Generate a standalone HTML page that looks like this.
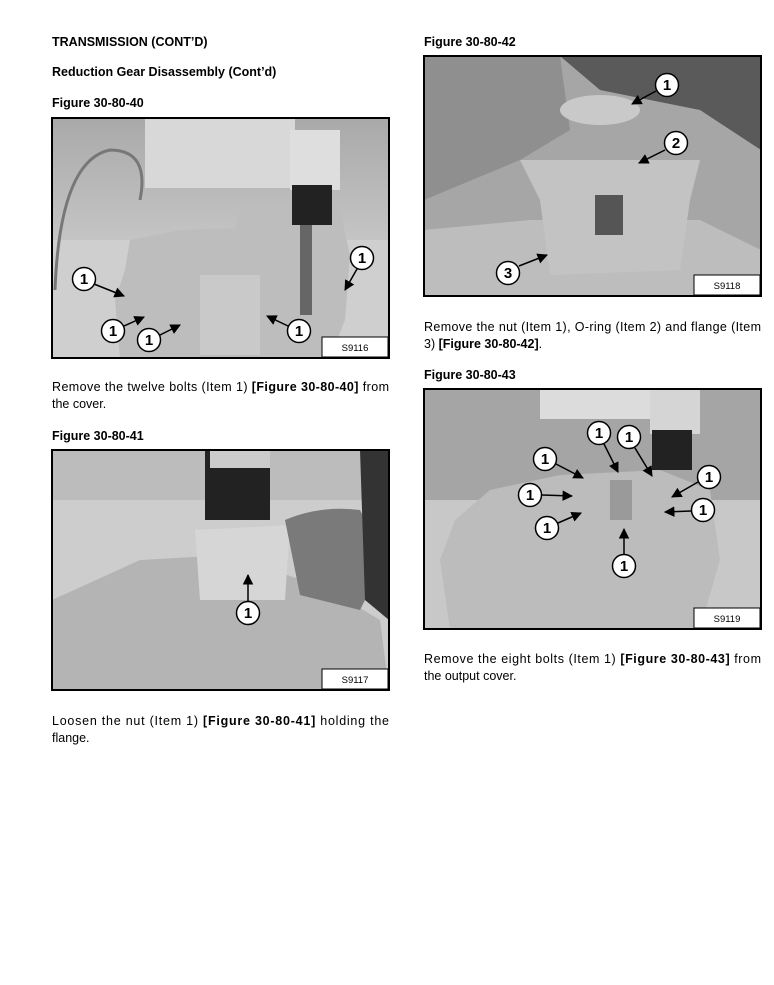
<!DOCTYPE html>
<html><head><meta charset="utf-8"><style>
html,body{margin:0;padding:0;background:#fff}
svg{display:block}
text{font-family:"Liberation Sans",Arial,sans-serif;fill:#000}
.h{font-size:12.5px;font-weight:bold}
.p{font-size:12.5px}
.c{font-size:15px;font-weight:bold;text-anchor:middle}
.s{font-size:9.5px;text-anchor:middle}
</style></head><body>
<svg width="774" height="985" viewBox="0 0 774 985" xmlns="http://www.w3.org/2000/svg">
<defs>
<marker id="a" viewBox="0 0 10 10" refX="9" refY="5" markerWidth="7" markerHeight="7" orient="auto"><path d="M0,0L10,5L0,10z" fill="#000"/></marker>
<linearGradient id="g1" x1="0" y1="0" x2="0" y2="1"><stop offset="0" stop-color="#a9a9a9"/><stop offset="0.5" stop-color="#c4c4c4"/><stop offset="1" stop-color="#b0b0b0"/></linearGradient>
</defs>
<rect width="774" height="985" fill="#fff"/>

<text class="h" x="52" y="46">TRANSMISSION (CONT’D)</text>
<text class="h" x="52" y="76">Reduction Gear Disassembly (Cont’d)</text>
<text class="h" x="52" y="107">Figure 30-80-40</text>

<!-- Fig 40 -->
<rect x="52" y="118" width="337" height="240" fill="url(#g1)"/>
<rect x="52" y="240" width="337" height="118" fill="#cfcfcf"/>
<path d="M125,270 L130,240 L180,230 L235,228 L240,210 L290,205 L340,210 L350,255 L345,320 L330,358 L120,358 L115,300z" fill="#bdbdbd"/>
<rect x="200" y="275" width="60" height="80" fill="#c9c9c9"/>
<rect x="145" y="118" width="150" height="70" fill="#d8d8d8"/>
<rect x="290" y="130" width="50" height="60" fill="#dedede"/>
<rect x="292" y="185" width="40" height="40" fill="#222"/>
<rect x="300" y="225" width="12" height="90" fill="#666"/>
<path d="M55,290 Q60,160 110,150 Q150,150 140,200" fill="none" stroke="#777" stroke-width="3"/>
<rect x="52" y="118" width="337" height="240" fill="none" stroke="#000" stroke-width="2"/>
<rect x="322" y="337" width="66" height="20" fill="#fff" stroke="#000"/>
<text class="s" x="355" y="351">S9116</text>
<g stroke="#000" stroke-width="1.5" marker-end="url(#a)">
<line x1="94" y1="284" x2="124" y2="296"/><line x1="124" y1="326" x2="144" y2="317"/>
<line x1="160" y1="335" x2="180" y2="325"/><line x1="288" y1="326" x2="267" y2="316"/>
<line x1="357" y1="269" x2="345" y2="290"/>
</g>
<g fill="#fff" stroke="#000" stroke-width="1.5">
<circle cx="84" cy="279" r="11.5"/><circle cx="113" cy="331" r="11.5"/><circle cx="149" cy="340" r="11.5"/><circle cx="299" cy="331" r="11.5"/><circle cx="362" cy="258" r="11.5"/>
</g>
<text class="c" x="84" y="284">1</text><text class="c" x="113" y="336">1</text><text class="c" x="149" y="345">1</text><text class="c" x="299" y="336">1</text><text class="c" x="362" y="263">1</text>

<text class="p" x="52" y="391" textLength="337">Remove the twelve bolts (Item 1) <tspan font-weight="bold">[Figure 30-80-40]</tspan> from</text>
<text class="p" x="52" y="408">the cover.</text>

<text class="h" x="52" y="440">Figure 30-80-41</text>
<!-- Fig 41 -->
<rect x="52" y="450" width="337" height="240" fill="#bcbcbc"/>
<rect x="52" y="500" width="337" height="190" fill="#cdcdcd"/>
<path d="M52,600 L140,560 L230,555 L330,590 L380,620 L389,690 L52,690z" fill="#b4b4b4"/>
<path d="M195,530 L290,525 L285,600 L200,600z" fill="#d6d6d6"/>
<rect x="205" y="450" width="65" height="70" fill="#222"/>
<rect x="210" y="450" width="60" height="18" fill="#ccc"/>
<path d="M285,520 Q320,505 360,510 L385,560 L360,610 L300,595z" fill="#7a7a7a"/>
<path d="M360,450 L389,450 L389,620 L365,600z" fill="#333"/>
<rect x="52" y="450" width="337" height="240" fill="none" stroke="#000" stroke-width="2"/>
<rect x="322" y="669" width="66" height="20" fill="#fff" stroke="#000"/>
<text class="s" x="355" y="683">S9117</text>
<line x1="248" y1="601" x2="248" y2="575" stroke="#000" stroke-width="1.5" marker-end="url(#a)"/>
<circle cx="248" cy="613" r="11.5" fill="#fff" stroke="#000" stroke-width="1.5"/>
<text class="c" x="248" y="618">1</text>

<text class="p" x="52" y="725" textLength="337">Loosen the nut (Item 1) <tspan font-weight="bold">[Figure 30-80-41]</tspan> holding the</text>
<text class="p" x="52" y="742">flange.</text>

<!-- right column -->
<text class="h" x="424" y="46">Figure 30-80-42</text>
<rect x="424" y="56" width="337" height="240" fill="#a6a6a6"/>
<path d="M424,56 L560,56 L570,130 L520,160 L424,200z" fill="#8f8f8f"/>
<path d="M560,56 L761,56 L761,150 L700,110 L600,90z" fill="#5a5a5a"/>
<path d="M424,230 L530,220 L700,220 L761,250 L761,296 L424,296z" fill="#bdbdbd"/>
<path d="M520,160 L700,160 L690,200 L680,270 L550,275 L540,200z" fill="#c3c3c3"/>
<ellipse cx="600" cy="110" rx="40" ry="15" fill="#c9c9c9"/>
<rect x="595" y="195" width="28" height="40" fill="#555"/>
<rect x="424" y="56" width="337" height="240" fill="none" stroke="#000" stroke-width="2"/>
<rect x="694" y="275" width="66" height="20" fill="#fff" stroke="#000"/>
<text class="s" x="727" y="289">S9118</text>
<g stroke="#000" stroke-width="1.5" marker-end="url(#a)">
<line x1="656" y1="91" x2="632" y2="104"/><line x1="665" y1="150" x2="639" y2="163"/><line x1="519" y1="266" x2="547" y2="255"/>
</g>
<g fill="#fff" stroke="#000" stroke-width="1.5"><circle cx="667" cy="85" r="11.5"/><circle cx="676" cy="143" r="11.5"/><circle cx="508" cy="273" r="11.5"/></g>
<text class="c" x="667" y="90">1</text><text class="c" x="676" y="148">2</text><text class="c" x="508" y="278">3</text>

<text class="p" x="424" y="331" textLength="337">Remove the nut (Item 1), O-ring (Item 2) and flange (Item</text>
<text class="p" x="424" y="348">3) <tspan font-weight="bold">[Figure 30-80-42]</tspan>.</text>

<text class="h" x="424" y="379">Figure 30-80-43</text>
<rect x="424" y="389" width="337" height="240" fill="#a5a5a5"/>
<rect x="424" y="500" width="337" height="129" fill="#c8c8c8"/>
<path d="M455,520 L490,490 L560,475 L660,470 L710,490 L720,560 L700,629 L450,629 L440,560z" fill="#bcbcbc"/>
<rect x="540" y="389" width="110" height="30" fill="#dcdcdc"/>
<rect x="650" y="389" width="50" height="45" fill="#d5d5d5"/>
<rect x="652" y="430" width="40" height="40" fill="#222"/>
<rect x="610" y="480" width="22" height="40" fill="#9a9a9a"/>
<rect x="424" y="389" width="337" height="240" fill="none" stroke="#000" stroke-width="2"/>
<rect x="694" y="608" width="66" height="20" fill="#fff" stroke="#000"/>
<text class="s" x="727" y="622">S9119</text>
<g stroke="#000" stroke-width="1.5" marker-end="url(#a)">
<line x1="604" y1="444" x2="618" y2="472"/><line x1="635" y1="448" x2="652" y2="476"/>
<line x1="556" y1="464" x2="583" y2="478"/><line x1="698" y1="482" x2="672" y2="497"/>
<line x1="542" y1="495" x2="572" y2="496"/><line x1="691" y1="511" x2="665" y2="512"/>
<line x1="558" y1="523" x2="581" y2="513"/><line x1="624" y1="554" x2="624" y2="529"/>
</g>
<g fill="#fff" stroke="#000" stroke-width="1.5">
<circle cx="599" cy="433" r="11.5"/><circle cx="629" cy="437" r="11.5"/><circle cx="545" cy="459" r="11.5"/><circle cx="709" cy="477" r="11.5"/><circle cx="530" cy="495" r="11.5"/><circle cx="703" cy="510" r="11.5"/><circle cx="547" cy="528" r="11.5"/><circle cx="624" cy="566" r="11.5"/>
</g>
<text class="c" x="599" y="438">1</text><text class="c" x="629" y="442">1</text><text class="c" x="545" y="464">1</text><text class="c" x="709" y="482">1</text><text class="c" x="530" y="500">1</text><text class="c" x="703" y="515">1</text><text class="c" x="547" y="533">1</text><text class="c" x="624" y="571">1</text>

<text class="p" x="424" y="663" textLength="337">Remove the eight bolts (Item 1) <tspan font-weight="bold">[Figure 30-80-43]</tspan> from</text>
<text class="p" x="424" y="680">the output cover.</text>
</svg>
</body></html>
